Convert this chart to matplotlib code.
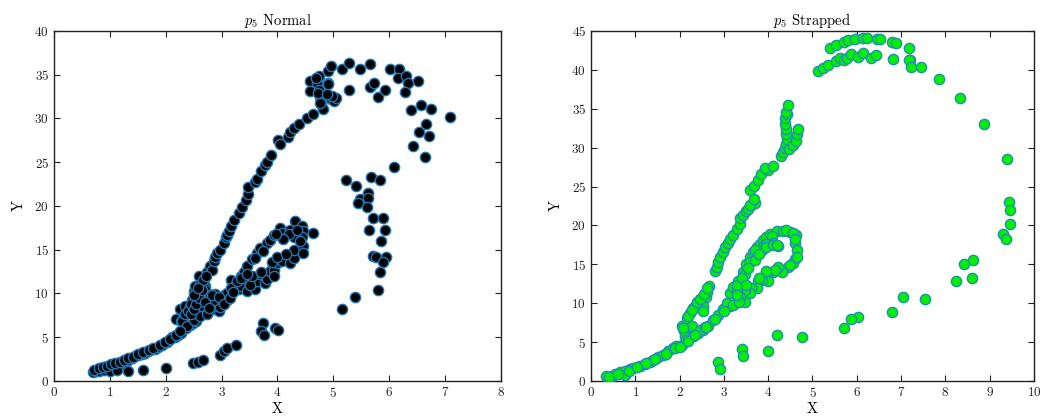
import matplotlib
matplotlib.use("Agg")
import matplotlib.pyplot as plt

plt.rcParams['font.family'] = ['cmr10', 'DejaVu Serif']
plt.rcParams['mathtext.fontset'] = 'cm'
plt.rcParams['axes.formatter.use_mathtext'] = True

# ---------------- Left panel: p5 Normal ----------------
normal_x = [
    0.70, 0.75, 0.79, 0.85, 0.91, 0.95, 1.00, 1.05, 1.09, 1.15, 1.21, 1.27, 1.33, 1.39, 1.45,
    1.51, 1.57, 1.63, 1.68, 1.72, 1.80, 1.87, 1.93, 2.02, 2.06, 2.11, 2.16, 2.22, 2.28, 2.36,
    2.43, 2.49, 2.55, 0.80, 0.90, 1.00, 1.12, 1.33, 1.60, 2.00, 2.49, 2.58, 2.67, 2.97, 3.04,
    3.10, 3.25, 3.74, 3.70, 3.76, 3.95, 4.01,
    2.19, 2.28, 2.34, 2.26, 2.35, 2.29, 2.38, 2.44, 2.35, 2.50, 2.62, 2.74, 2.86, 2.95, 2.92,
    2.98, 2.47, 2.56, 2.62, 2.50, 2.53, 2.60, 2.62, 2.68, 2.71, 2.68, 2.74, 2.74, 2.86, 2.89,
    3.01, 3.04, 3.10, 3.16, 3.16, 3.25, 3.31, 3.34, 3.46, 3.48, 3.60, 3.63, 3.69, 3.78, 3.81,
    3.87, 3.93, 3.93, 3.99, 4.08, 4.22, 4.29, 4.29, 4.46, 4.46,
    3.10, 3.16, 3.28, 3.34, 3.40, 3.46, 3.54, 3.63, 3.69, 3.81, 3.87, 3.93, 4.05, 4.08, 4.23,
    4.31, 4.44, 4.46, 4.44, 4.29, 4.64, 2.40, 2.45, 2.55, 2.65, 2.58, 2.70, 2.80,
    2.74, 2.80, 2.83, 2.86, 2.89, 2.92, 2.98, 3.04, 3.07, 3.10, 3.13, 3.16, 3.22, 3.31, 3.37,
    3.43, 3.48, 3.48, 3.60, 3.63, 3.71, 3.78, 3.81, 3.89, 4.01, 4.04, 4.19, 4.23, 4.30, 4.38,
    4.53, 4.64, 4.58, 4.58, 4.71, 4.74, 4.69, 4.74, 4.77, 4.91, 4.91, 4.95, 4.78, 4.81, 4.84,
    4.95, 5.01, 5.04, 4.98, 4.72, 4.88, 4.76, 4.90,
    5.16, 5.28, 5.28, 5.48, 5.66, 5.66, 5.73, 5.80, 5.92, 6.01, 6.18, 6.16, 6.30, 6.34, 6.28,
    6.52, 6.39, 6.57, 6.74, 7.09, 6.54, 6.66, 6.72, 6.42, 6.64, 6.08,
    5.23, 5.41, 5.68, 5.83, 5.62, 5.48, 5.62, 5.45, 5.61, 5.71, 5.88, 5.64, 5.92, 5.85, 5.71,
    5.77, 5.94, 5.88, 5.84, 5.80, 5.38, 5.16,
    0.72, 0.80, 0.88, 0.95, 1.02, 1.10, 1.18, 1.25, 1.32, 1.42, 1.50, 1.60, 1.70, 1.78, 1.90,
    1.98, 2.08, 2.18, 2.25, 2.45, 2.50, 2.55, 2.60, 2.65, 2.70, 2.78, 2.82, 2.66, 2.72, 2.50,
    2.58, 2.95, 3.05, 3.15, 3.20, 3.35, 3.50, 3.55, 3.70, 3.90, 4.00, 4.15, 4.20, 4.35, 4.40,
    4.10, 3.98, 3.75, 3.60, 3.45,
]
normal_y = [
    1.06, 1.15, 1.25, 1.38, 1.48, 1.55, 1.63, 1.75, 1.82, 1.95, 2.00, 2.20, 2.40, 2.60, 2.85,
    2.95, 3.10, 3.25, 3.40, 3.50, 3.70, 3.90, 4.15, 4.50, 4.70, 5.00, 5.05, 5.20, 5.50, 6.00,
    6.40, 6.60, 6.90, 1.10, 1.25, 1.20, 1.25, 1.17, 1.25, 1.52, 2.10, 2.20, 2.40, 2.96, 3.40,
    3.80, 4.10, 6.60, 5.70, 5.30, 6.10, 5.80,
    7.10, 6.80, 8.50, 8.20, 8.60, 6.90, 6.30, 8.40, 7.60, 7.00, 7.40, 7.60, 8.20, 8.00, 8.60,
    8.40, 9.30, 9.30, 8.60, 10.30, 10.80, 12.00, 11.10, 10.10, 10.80, 11.60, 8.90, 9.50, 9.30, 9.90,
    9.30, 9.80, 9.30, 10.10, 11.50, 11.10, 10.50, 10.80, 10.30, 11.40, 10.50, 11.40, 12.20, 11.20, 11.60,
    12.60, 12.70, 12.00, 13.50, 13.70, 13.50, 14.10, 15.00, 15.40, 14.60,
    10.10, 10.60, 11.40, 12.00, 12.50, 13.10, 13.90, 14.60, 15.20, 15.80, 16.10, 16.70, 17.50, 16.90, 17.30,
    18.30, 17.70, 17.10, 16.50, 16.40, 16.90, 8.00, 8.80, 9.60, 9.20, 10.00, 10.50, 9.80,
    12.40, 13.10, 12.70, 13.70, 14.20, 14.60, 15.00, 15.80, 16.50, 16.70, 17.10, 17.70, 18.40, 19.20, 19.90,
    20.70, 21.40, 22.20, 22.70, 23.10, 24.00, 24.70, 25.00, 25.80, 27.50, 27.10, 27.90, 28.40, 28.90, 29.40,
    30.00, 30.50, 34.30, 33.10, 34.00, 34.90, 34.60, 33.20, 32.40, 34.00, 35.40, 36.00, 31.70, 31.10, 32.40,
    32.20, 32.00, 32.30, 32.60, 32.90, 32.80, 31.80, 33.90,
    35.70, 36.30, 33.30, 35.60, 36.20, 33.60, 34.00, 32.50, 33.20, 35.70, 35.60, 34.60, 34.90, 34.10, 33.00,
    34.30, 31.00, 31.50, 31.10, 30.20, 28.40, 29.40, 28.00, 26.90, 25.60, 24.50,
    23.00, 22.30, 23.30, 23.00, 21.50, 20.80, 20.90, 20.30, 19.90, 18.60, 18.60, 17.20, 17.30, 16.00, 14.30,
    14.20, 14.20, 13.60, 12.40, 10.40, 9.60, 8.20,
    1.30, 1.45, 1.60, 1.75, 1.90, 2.05, 2.20, 2.45, 2.60, 2.80, 3.05, 3.30, 3.60, 3.80, 4.10,
    4.40, 4.75, 5.30, 5.70, 7.60, 8.20, 8.80, 9.50, 10.40, 9.00, 8.30, 9.80, 11.50, 12.00, 9.80,
    10.60, 9.60, 8.80, 9.50, 10.20, 11.80, 11.00, 12.00, 12.50, 13.60, 14.20, 14.50, 16.80, 17.30, 16.00,
    16.20, 16.80, 14.90, 14.00, 12.20,
]

# ---------------- Right panel: p5 Strapped ----------------
strapped_x = [
    0.35, 0.47, 0.54, 0.65, 0.77, 0.77, 0.88, 0.95, 1.11, 1.22, 1.33, 1.41, 1.52, 1.63, 1.74,
    1.86, 1.93, 2.05, 2.16, 2.31, 2.42, 2.53, 2.65, 2.76, 2.87, 2.98, 3.14, 3.29, 3.44, 3.47,
    2.05, 2.10, 2.12, 2.14, 2.16, 2.23, 2.31, 2.36, 2.50, 2.53, 2.59, 2.62, 2.67, 2.53, 2.29,
    2.31, 2.46, 2.57,
    2.80, 2.85, 2.87, 2.91, 2.97, 3.02, 3.10, 3.14, 3.21, 3.29, 3.36, 3.36, 3.44, 3.51, 3.59,
    3.70, 3.55, 3.60, 3.68, 3.58, 3.68, 3.77, 3.83, 4.00, 3.93, 4.10,
    3.06, 3.14, 3.21, 3.32, 3.44, 3.51, 3.59, 3.65, 3.74, 3.81, 3.89, 3.96, 4.04, 4.19, 4.34,
    4.49, 4.62, 4.61, 4.65, 4.61, 4.55, 4.45, 4.32, 4.23, 4.11, 3.98, 4.00, 3.87, 3.77, 3.74,
    3.62, 3.59, 3.47, 3.36, 3.29, 4.08, 4.11, 4.23, 3.96, 3.89, 3.85, 3.70, 3.59, 3.47,
    4.28, 4.34, 4.38, 4.41, 4.43, 4.41, 4.40, 4.38, 4.38, 4.43, 4.40, 4.44, 4.48, 4.56, 4.62,
    4.66, 4.68,
    5.13, 5.23, 5.34, 5.53, 5.62, 5.71, 5.77, 5.88, 6.03, 6.13, 6.31, 6.44, 6.82, 7.20,
    5.39, 5.53, 5.71, 5.80, 5.95, 6.14, 6.23, 6.46, 6.53, 6.80, 6.89, 7.17, 7.18, 7.23, 7.44,
    7.85, 8.34, 8.87, 9.39, 9.43, 9.45, 9.45, 9.29, 9.36,
    8.62, 8.41, 8.61, 8.23, 7.53, 7.05, 6.80, 6.03, 5.86, 5.71, 4.77, 4.19, 3.99, 3.40, 3.44,
    2.86, 2.91,
    0.40, 0.60, 0.85, 1.05, 1.25, 1.45, 1.70, 1.90, 2.00, 2.20, 2.35, 2.60, 2.80, 3.00, 3.20,
    3.35, 2.08, 2.20, 2.28, 2.40, 2.45, 2.56, 2.62, 2.54, 3.30, 3.40, 3.55, 3.70, 3.80, 3.95,
    4.10, 4.20, 4.40, 4.55, 4.60, 4.65, 4.50, 4.15, 3.95, 3.80, 3.50, 3.30,
]
strapped_y = [
    0.60, 0.70, 0.90, 1.10, 1.30, 0.80, 1.60, 1.70, 1.90, 2.20, 2.50, 2.70, 3.10, 3.40, 3.90,
    4.20, 4.50, 4.60, 5.10, 5.80, 6.20, 6.60, 7.10, 7.90, 8.50, 9.20, 9.60, 10.20, 10.40, 10.20,
    7.10, 6.40, 5.80, 5.30, 8.10, 8.70, 9.40, 9.80, 9.20, 10.40, 10.80, 11.50, 12.20, 9.70, 7.10,
    5.80, 6.60, 7.00,
    14.20, 14.70, 15.30, 15.90, 16.60, 17.20, 17.80, 18.30, 18.80, 19.50, 20.20, 21.00, 21.40, 21.90, 22.50,
    22.90, 22.10, 22.60, 23.40, 24.50, 25.10, 25.80, 26.60, 27.10, 27.40, 27.70,
    10.00, 11.30, 12.10, 12.80, 14.00, 15.10, 15.90, 16.60, 17.20, 17.60, 18.10, 18.50, 18.90, 19.30, 19.30,
    19.20, 18.80, 17.80, 16.80, 15.70, 15.20, 14.70, 14.00, 14.70, 14.00, 13.70, 12.80, 13.00, 12.80, 11.90,
    11.90, 11.30, 11.70, 10.80, 11.60, 18.70, 17.80, 17.40, 17.60, 17.20, 16.80, 16.80, 15.30, 13.80,
    28.90, 29.40, 30.00, 30.50, 31.10, 31.80, 32.40, 33.00, 33.80, 34.30, 34.60, 35.50, 29.80, 30.30, 30.90,
    31.80, 32.40,
    39.90, 40.20, 40.60, 41.10, 41.50, 41.20, 41.50, 42.00, 41.60, 42.10, 41.50, 41.90, 41.40, 41.30,
    42.80, 43.20, 43.60, 43.80, 43.90, 44.10, 44.10, 44.00, 43.90, 43.60, 43.40, 42.80, 41.20, 40.40, 40.30,
    38.80, 36.40, 33.10, 28.50, 23.00, 22.00, 20.20, 18.90, 18.20,
    15.50, 15.10, 13.30, 12.80, 10.50, 10.80, 8.90, 8.20, 8.00, 6.80, 5.70, 5.90, 3.90, 4.10, 3.20,
    2.40, 1.60,
    0.50, 0.90, 1.30, 1.80, 2.30, 2.80, 3.50, 4.20, 4.40, 5.20, 5.90, 6.90, 8.00, 9.00, 9.80,
    10.10, 6.80, 8.40, 9.10, 10.10, 10.60, 11.20, 12.00, 9.00, 12.30, 13.30, 14.50, 15.50, 16.30, 17.20,
    17.50, 17.50, 19.40, 19.00, 18.20, 16.00, 14.90, 14.30, 14.10, 13.20, 12.30, 11.00,
]

left_xticks = [0, 1, 2, 3, 4, 5, 6, 7, 8]
left_yticks = [0, 5, 10, 15, 20, 25, 30, 35, 40]
right_xticks = [0, 1, 2, 3, 4, 5, 6, 7, 8, 9, 10]
right_yticks = [0, 5, 10, 15, 20, 25, 30, 35, 40, 45]

fig = plt.figure(figsize=(10.54, 4.18), dpi=100)
ax1 = fig.add_axes([0.0512, 0.0885, 0.4241, 0.8375])
ax2 = fig.add_axes([0.5607, 0.0885, 0.4203, 0.8375])

ax1.scatter(normal_x, normal_y, s=55, c='black', edgecolors='#1f77b4', linewidths=1.0, zorder=3)
ax2.scatter(strapped_x, strapped_y, s=55, c='#00f000', edgecolors='#1f8fb4', linewidths=1.0, zorder=3)

for ax, xt, yt, title in [
    (ax1, left_xticks, left_yticks, r'$p_5$ Normal'),
    (ax2, right_xticks, right_yticks, r'$p_5$ Strapped'),
]:
    ax.set_xlim(xt[0], xt[-1])
    ax.set_ylim(yt[0], yt[-1])
    ax.set_xticks(xt)
    ax.set_yticks(yt)
    ax.tick_params(direction='in', top=True, right=True, length=4, width=0.8,
                   labelsize=9.5, colors='#222222')
    ax.set_xlabel('X', fontsize=10.5, labelpad=2)
    ax.set_ylabel('Y', fontsize=10.5, labelpad=6)
    ax.set_title(title, fontsize=10.5, pad=4)
    for sp in ax.spines.values():
        sp.set_linewidth(1.0)
        sp.set_color('#222222')

fig.savefig('out.png', dpi=100)
